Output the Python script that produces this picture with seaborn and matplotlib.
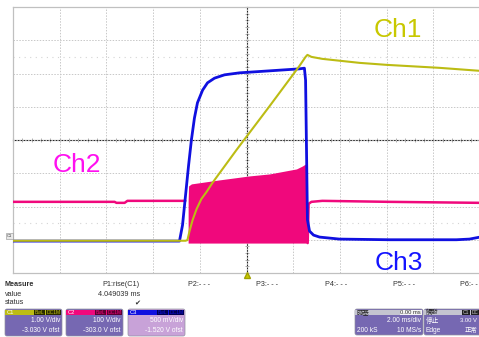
import numpy as np
import pandas as pd
import matplotlib
matplotlib.use("Agg")
import matplotlib.pyplot as plt
import seaborn as sns
from matplotlib.patches import FancyBboxPatch, Rectangle

# ---------------- data (time in ms, values in volts) ----------------
ch1_t = [-10.0, -2.61, -2.53, -2.44, -2.31, -2.14, -1.93, -1.71, -1.46, -0.43,
         0.99, 2.27, 2.53, 2.61, 2.78, 3.25, 4.84, 6.00, 8.27, 10.0]
ch1_v = [0.0, 0.0, 0.02, 0.29, 0.62, 0.95, 1.26, 1.47, 1.74, 2.73,
         4.05, 5.26, 5.53, 5.59, 5.53, 5.47, 5.35, 5.29, 5.20, 5.11]

ch2_pre_t = [-10.0, -5.65, -5.57, -5.22, -5.10, -2.62]
ch2_pre_v = [117, 117, 114, 114, 120, 120]
ch2_burst_t = [-2.50, -2.48, -2.36, -1.16, 0.13, 0.99, 2.14, 2.40, 2.53, 2.61]
ch2_burst_hi = [120, 165, 171, 183, 195, 201, 216, 225, 231, 234]
ch2_burst_lo = [-7, -7, -7, -7, -7, -7, -7, -7, -7, -7]
ch2_post_t = [2.62, 2.66, 2.78, 3.25, 6.12, 10.0]
ch2_post_v = [-7, 111, 117, 120, 117, 114]

ch3_t = [-10.0, -2.87, -2.74, -2.61, -2.48, -2.36, -2.23, -2.10, -1.88, -1.67,
         -1.37, -0.94, -0.30, 0.99, 2.27, 2.48, 2.53, 2.57, 2.61, 2.70,
         2.87, 3.13, 3.98, 6.12, 8.99, 9.55, 10.0]
ch3_v = [0.0, 0.0, 0.24, 0.69, 1.14, 1.52, 1.85, 2.08, 2.27, 2.38,
         2.45, 2.50, 2.53, 2.56, 2.59, 2.60, 2.42, 1.37, 0.32, 0.15,
         0.09, 0.06, 0.03, 0.02, 0.02, 0.03, 0.06]

ch_names = ["Ch1", "Ch2", "Ch3"]
ch_scale = [1.0, 100.0, 0.5]        # V/div
ch_ofst = [-3.03, -303.0, -1.52]    # V offset
ch_scale_txt = ["1.00 V/div", "100 V/div", "500 mV/div"]
ch_ofst_txt = ["-3.030 V ofst", "-303.0 V ofst", "-1.520 V ofst"]

# colours
YEL = "#bcbc14"
PINK = "#f0087c"
BLUE = "#1010e0"


def to_div(v, i):
    return (np.asarray(v, float) + ch_ofst[i]) / ch_scale[i]


# ---------------- figure ----------------
sns.set_style("white")
plt.rcParams["font.family"] = ["Liberation Sans", "Noto Sans CJK TC", "DejaVu Sans"]

W, H = 479, 337
fig = plt.figure(figsize=(W / 100, H / 100), dpi=100)
fig.patch.set_facecolor("white")

ax = fig.add_axes([13 / W, 1 - 273 / H, 467 / W, 266 / H])
ax.set_xlim(-10, 10)
ax.set_ylim(-4, 4)
ax.set_xticks(np.arange(-10, 10.01, 2))
ax.set_yticks(np.arange(-4, 4.01, 1))
ax.tick_params(length=0, labelbottom=False, labelleft=False)
ax.grid(True, color="#c8c8c8", ls=(0, (1.5, 1.5)), lw=0.7)
for s in ax.spines.values():
    s.set_color("#c0c0c0")
    s.set_linewidth(0.9)
for lvl in (2.5, -2.5):
    ax.axhline(lvl, color="#d4d4d4", ls=(0, (1, 4)), lw=0.8, zorder=0.5)

# centre graticule axes with small ticks
secx = ax.secondary_xaxis(0.5)
secx.set_xticks(np.arange(-10, 10.01, 2))
secx.set_xticks(np.arange(-10, 10.01, 0.4), minor=True)
secx.tick_params(axis="x", which="both", direction="inout", length=3,
                 color="#a8a8a8", labelbottom=False, labeltop=False)
secx.spines["bottom"].set_color("#a8a8a8")
secx.spines["bottom"].set_linewidth(0.8)
secy = ax.secondary_yaxis(0.5)
secy.set_yticks(np.arange(-4, 4.01, 1))
secy.set_yticks(np.arange(-4, 4.01, 0.2), minor=True)
secy.tick_params(axis="y", which="both", direction="inout", length=3,
                 color="#a8a8a8", labelleft=False, labelright=False)
secy.spines["left"].set_color("#a8a8a8")
secy.spines["left"].set_linewidth(0.8)

# traces
d2pre = pd.DataFrame({"t": ch2_pre_t, "y": to_div(ch2_pre_v, 1)})
d2post = pd.DataFrame({"t": ch2_post_t, "y": to_div(ch2_post_v, 1)})
sns.lineplot(data=d2pre, x="t", y="y", ax=ax, color=PINK, lw=1.8,
             sort=False, estimator=None, zorder=3)
sns.lineplot(data=d2post, x="t", y="y", ax=ax, color=PINK, lw=1.8,
             sort=False, estimator=None, zorder=3)
ax.fill_between(ch2_burst_t, to_div(ch2_burst_lo, 1), to_div(ch2_burst_hi, 1),
                color=PINK, lw=0, zorder=3)

d3 = pd.DataFrame({"t": ch3_t, "y": to_div(ch3_v, 2)})
sns.lineplot(data=d3, x="t", y="y", ax=ax, color=BLUE, lw=2.0,
             sort=False, estimator=None, zorder=4)
d1 = pd.DataFrame({"t": ch1_t, "y": to_div(ch1_v, 0)})
sns.lineplot(data=d1, x="t", y="y", ax=ax, color=YEL, lw=1.5,
             sort=False, estimator=None, zorder=5)
ax.set_xlabel("")
ax.set_ylabel("")

# ---------------- overlay in pixel coordinates ----------------
ov = fig.add_axes([0, 0, 1, 1], zorder=10)
ov.set_xlim(0, W)
ov.set_ylim(H, 0)
ov.axis("off")
ov.patch.set_alpha(0)

ov.text(398, 30, "Ch1", color="#c8c800", fontsize=19, ha="center", va="center")
ov.text(77, 165, "Ch2", color="#ff10f0", fontsize=19, ha="center", va="center")
ov.text(399, 263, "Ch3", color="#1414ff", fontsize=19, ha="center", va="center")

# ground marker and trigger marker
ov.add_patch(Rectangle((6, 233), 7, 6, fc="#e8e8e8", ec="#909090", lw=0.4))
ov.text(9.5, 236, "C1", fontsize=3, ha="center", va="center", color="#404040")
ov.plot([247], [275], marker="^", ms=4, color="#c8c800", mec="#a0a000")

TXT = "#303030"
fs = 5.2
ov.text(5, 285, "Measure", fontsize=fs, color=TXT, fontweight="bold", va="center")
ov.text(5, 294, "value", fontsize=fs, color=TXT, va="center")
ov.text(5, 303, "status", fontsize=fs, color=TXT, va="center")
ov.text(140, 285, "P1:rise(C1)", fontsize=fs, color=TXT, va="center", ha="right")
ov.text(140, 294, "4.049039 ms", fontsize=fs, color=TXT, va="center", ha="right")
ov.text(137, 303, "\u2714", fontsize=fs, color=TXT, va="center", ha="center",
        family="DejaVu Sans")
for xx, lab in [(188, "P2:- - -"), (256, "P3:- - -"), (325, "P4:- - -"),
                (393, "P5:- - -"), (460, "P6:- -")]:
    ov.text(xx, 285, lab, fontsize=fs, color=TXT, va="center")

# channel boxes
boxes = [(5, YEL, "#7668b2", "#2a2a00"),
         (66, PINK, "#7668b2", "#5a0030"),
         (128, BLUE, "#c8a2d8", "#000050")]
for i, (bx, hc, bc, lc) in enumerate(boxes):
    ov.add_patch(FancyBboxPatch((bx, 309), 57, 27,
                                boxstyle="round,pad=0,rounding_size=2",
                                fc=bc, ec="#9090a0", lw=0.5))
    ov.add_patch(Rectangle((bx + 0.5, 309.5), 56, 5.5, fc=hc, ec="none"))
    ov.text(bx + 2, 312.3, f"C{i + 1}", fontsize=4.2, color="white", va="center")
    ov.add_patch(Rectangle((bx + 29, 310), 11, 4.5, fc=lc, ec="none"))
    ov.add_patch(Rectangle((bx + 41, 310), 15, 4.5, fc=lc, ec="none"))
    ov.text(bx + 34.5, 312.3, "BwL", fontsize=3.6, color=hc, ha="center", va="center")
    ov.text(bx + 48.5, 312.3, "DC1M", fontsize=3.6, color=hc, ha="center", va="center")
    ov.text(bx + 55, 321, ch_scale_txt[i], fontsize=4.8, color="white",
            ha="right", va="center")
    ov.text(bx + 55, 330, ch_ofst_txt[i], fontsize=4.8, color="white",
            ha="right", va="center")

# timebase / trigger boxes
for bx, bw in [(355, 68), (424, 66)]:
    ov.add_patch(FancyBboxPatch((bx, 309), bw, 26,
                                boxstyle="round,pad=0,rounding_size=2",
                                fc="#7668b2", ec="#9090a0", lw=0.5))
    ov.add_patch(Rectangle((bx + 0.5, 309.5), bw - 1, 5.5, fc="#c4c4d0", ec="none"))
cjk = ["Noto Sans CJK TC", "DejaVu Sans"]
ov.text(357, 312.3, "時基", fontsize=4.6, color="#202020", va="center", family=cjk)
ov.add_patch(Rectangle((400, 310), 22, 4.5, fc="#f4f4f4", ec="none"))
ov.text(421, 312.3, "0.00 ms", fontsize=4.2, color="#303030", ha="right", va="center")
ov.text(421, 321, "2.00 ms/div", fontsize=4.8, color="white", ha="right", va="center")
ov.text(357, 330, "200 kS", fontsize=4.8, color="white", va="center")
ov.text(421, 330, "10 MS/s", fontsize=4.8, color="white", ha="right", va="center")
ov.text(426, 312.3, "觸發", fontsize=4.6, color="#202020", va="center", family=cjk)
ov.add_patch(Rectangle((462, 310), 8, 4.5, fc="#202020", ec="none"))
ov.add_patch(Rectangle((471, 310), 8, 4.5, fc="#202020", ec="none"))
ov.text(466, 312.3, "C1", fontsize=3.6, color="#d0d0d0", ha="center", va="center")
ov.text(475, 312.3, "DC", fontsize=3.4, color="#d0d0d0", ha="center", va="center")
ov.text(426, 321, "停止", fontsize=4.8, color="white", va="center", family=cjk)
ov.text(477, 321, "3.00 V", fontsize=4.2, color="white", va="center", ha="right")
ov.text(426, 330, "Edge", fontsize=4.8, color="white", va="center")
ov.text(477, 330, "正常", fontsize=4.6, color="white", va="center", ha="right",
        family=cjk)

fig.savefig("out.png", dpi=100)
